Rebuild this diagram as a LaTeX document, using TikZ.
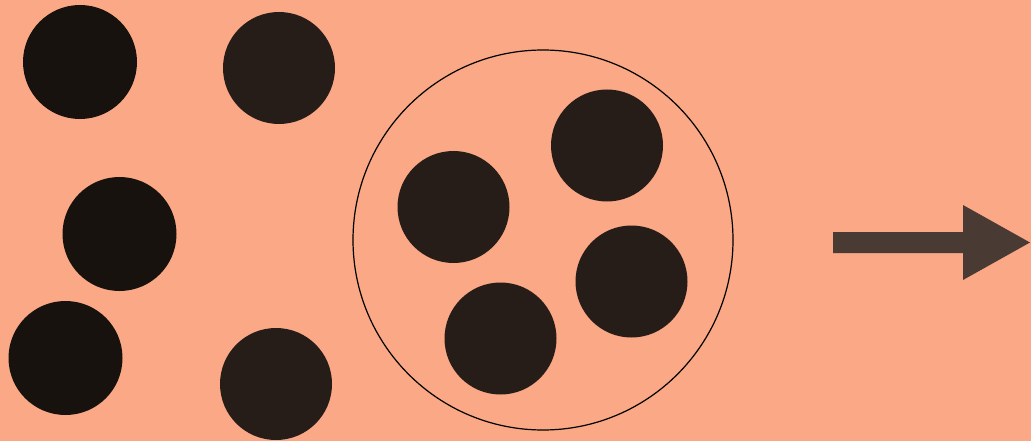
\documentclass[tikz,border=0pt]{standalone}
\usetikzlibrary{shapes.arrows}
\definecolor{bg}{RGB}{250,168,134}
\definecolor{dotA}{RGB}{24,18,14}
\definecolor{dotB}{RGB}{38,28,24}
\definecolor{arr}{RGB}{74,58,52}
\tikzset{
  dotblack/.style={circle,fill=dotA,minimum size=114pt,inner sep=0pt},
  dotbrown/.style={circle,fill=dotB,minimum size=112pt,inner sep=0pt},
}
\begin{document}
\begin{tikzpicture}[x=1pt,y=-1pt]
\fill[bg] (0,0) rectangle (1031,441);
\useasboundingbox (0,0) rectangle (1031,441);
% left group
\node[dotblack] (a) at (80,62) {};
\node[dotbrown] (b) at (279,68) {};
\node[dotblack] (c) at (119.5,234) {};
\node[dotblack] (d) at (65.5,358) {};
\node[dotbrown] (e) at (276,384) {};
% enclosing circle
\node[circle,draw=black,line width=1.2pt,minimum size=380pt,inner sep=0pt] (big) at (543,240) {};
\node[dotbrown] (f) at (607,145.5) {};
\node[dotbrown] (g) at (453.5,207) {};
\node[dotbrown] (h) at (631.5,281.5) {};
\node[dotbrown] (i) at (500.5,338.5) {};
% arrow
\fill[arr] (833,232) -- (963,232) -- (963,205) -- (1030,242.5) -- (963,280) -- (963,253) -- (833,253) -- cycle;
\end{tikzpicture}
\end{document}
